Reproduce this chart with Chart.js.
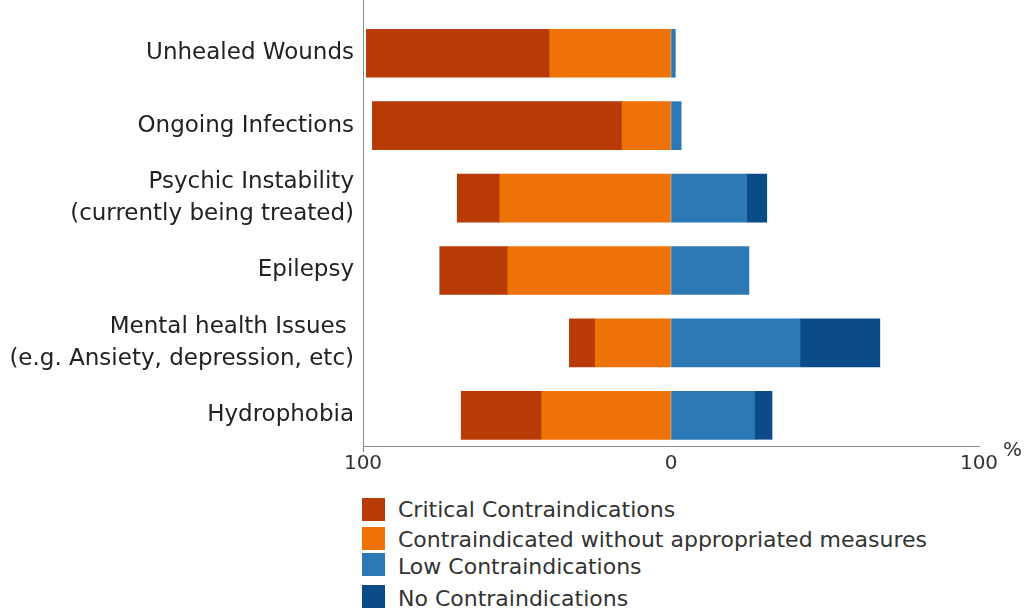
<!DOCTYPE html>
<html>
<head>
<meta charset="utf-8">
<script src="https://cdn.jsdelivr.net/npm/chart.js@4/dist/chart.umd.min.js"></script>
<style>
  html, body { margin: 0; padding: 0; background: #fff; }
  #wrap { position: relative; width: 1027px; height: 608px; overflow: hidden; font-family: "DejaVu Sans", sans-serif; }
  #c { position: absolute; left: 0; top: 0; }
  .pct { position: absolute; left: 1003px; top: 439px; font-size: 20px; line-height: 20px; color: #333; }
  .lg-sq { position: absolute; left: 362px; width: 23px; height: 23px; }
  .lg-tx { position: absolute; left: 398px; font-size: 22px; line-height: 24px; color: #333; white-space: nowrap; }
</style>
</head>
<body>
<div id="wrap">
  <canvas id="c" width="1027" height="480"></canvas>
  <div class="pct">%</div>
  <div id="legend"></div>
</div>
<script>
// ---- data ----
const categories = [
  ["Unhealed Wounds"],
  ["Ongoing Infections"],
  ["Psychic Instability", "(currently being treated)"],
  ["Epilepsy"],
  ["Mental health Issues ", "(e.g. Ansiety, depression, etc)"],
  ["Hydrophobia"]
];
const seriesNames = [
  "Critical Contraindications",
  "Contraindicated without appropriated measures",
  "Low Contraindications",
  "No Contraindications"
];
const critical = [59.5, 81.0, 13.8, 22.0, 8.4, 26.1];
const contraindicated = [39.4, 15.9, 55.6, 53.0, 24.6, 42.0];
const lowContra = [1.4, 3.3, 24.6, 25.3, 41.9, 27.1];
const noContra = [0, 0, 6.5, 0, 25.9, 5.7];
const xTickValues = [-100, 0, 100];
const xTickLabels = ["100", "0", "100"];

const colors = ["#b83a04", "#ee7205", "#2c78b5", "#0b4b87"];

// ---- legend (HTML) ----
const legendRows = [
  { sq: 498, tx: 498 },
  { sq: 527, tx: 528 },
  { sq: 553, tx: 555 },
  { sq: 585, tx: 587 }
];
const lg = document.getElementById('legend');
seriesNames.forEach((name, i) => {
  const sq = document.createElement('div');
  sq.className = 'lg-sq';
  sq.style.top = legendRows[i].sq + 'px';
  sq.style.background = colors[i];
  lg.appendChild(sq);
  const tx = document.createElement('div');
  tx.className = 'lg-tx';
  tx.style.top = legendRows[i].tx + 'px';
  tx.textContent = name;
  lg.appendChild(tx);
});

// ---- chart ----
const toPoints = (arr, sign) => arr.map((v, i) => ({ x: sign * v, y: i }));

new Chart(document.getElementById('c'), {
  type: 'bar',
  data: {
    datasets: [
      { label: seriesNames[1], data: toPoints(contraindicated, -1), backgroundColor: colors[1], barThickness: 48 },
      { label: seriesNames[0], data: toPoints(critical, -1), backgroundColor: colors[0], barThickness: 48 },
      { label: seriesNames[2], data: toPoints(lowContra, 1), backgroundColor: colors[2], barThickness: 48 },
      { label: seriesNames[3], data: toPoints(noContra, 1), backgroundColor: colors[3], barThickness: 48 }
    ]
  },
  options: {
    indexAxis: 'y',
    responsive: false,
    maintainAspectRatio: false,
    animation: false,
    layout: { padding: { top: 0, right: 48, bottom: 0, left: 0 } },
    plugins: { legend: { display: false }, tooltip: { enabled: false } },
    scales: {
      x: {
        type: 'linear',
        position: 'bottom',
        min: -100,
        max: 100,
        stacked: true,
        afterBuildTicks: s => { s.ticks = xTickValues.map(v => ({ value: v })); },
        ticks: {
          callback: (v, i) => xTickLabels[i],
          font: { family: 'DejaVu Sans', size: 20 },
          color: '#333',
          padding: 0,
          maxRotation: 0,
          autoSkip: false
        },
        grid: {
          drawOnChartArea: false,
          tickLength: 6,
          color: ctx => (ctx.tick && ctx.tick.value === -100) ? '#777' : 'rgba(0,0,0,0)'
        },
        border: { color: '#8a8a8a', width: 1 },
        afterFit: s => { s.height = 34; s.paddingLeft = 0; s.paddingRight = 0; }
      },
      y: {
        type: 'linear',
        reverse: true,
        offset: false,
        min: -0.736,
        max: 5.424,
        stacked: true,
        afterBuildTicks: s => { s.ticks = categories.map((c, i) => ({ value: i })); },
        ticks: {
          callback: (v, i) => categories[i],
          font: { family: 'DejaVu Sans', size: 23, lineHeight: 1.38 },
          color: '#222',
          padding: 9,
          autoSkip: false
        },
        grid: { display: false, drawTicks: false, offset: false },
        border: { color: '#8a8a8a', width: 1 },
        afterFit: s => { s.width = 363; s.paddingTop = 0; s.paddingBottom = 0; }
      }
    }
  }
});
</script>
</body>
</html>
